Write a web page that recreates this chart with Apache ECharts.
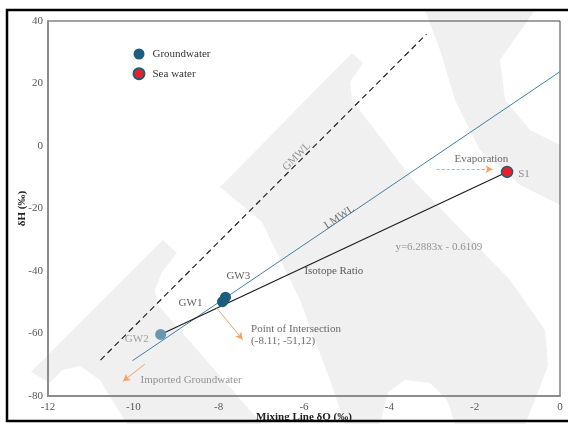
<!DOCTYPE html>
<html>
<head>
<meta charset="utf-8">
<script src="https://cdn.jsdelivr.net/npm/echarts@6/dist/echarts.min.js"></script>
<style>
html, body { margin: 0; padding: 0; background: #fff; }
#main { width: 568px; height: 424px; }
</style>
</head>
<body>
<div id="main"></div>
<script>
// sample values (δ18O, δ2H in per mille)
var gwNames = ['GW1', 'GW2', 'GW3'];
var gwO = [-7.91, -9.36, -7.84];
var gwH = [-49.8, -60.3, -48.4];

var seaNames = ['S1'];
var seaO = [-1.24];
var seaH = [-8.3];

// reference lines (end points)
var gmwlO = [-10.77, -3.13];
var gmwlH = [-68.5, 35.8];
var lmwlO = [-10.02, 0];
var lmwlH = [-68.7, 23.8];
var mixO = [-9.36, -1.24];
var mixH = [-60.3, -8.3];

var xTicks = [-12, 0, 2];   // min, max, step
var yTicks = [-80, 40, 20];

// text notes, placed in data units
var noteText = ['GMWL', 'LMWL', 'Evaporation', 'S1', 'y=6.2883x - 0.6109', 'Isotope Ratio',
  'GW3', 'GW1', 'GW2', 'Point of Intersection\n(-8.11; -51,12)', 'Imported Groundwater'];
var noteO = [-6.17, -5.17, -1.84, -0.98, -2.84, -5.30, -7.54, -8.66, -9.92, -7.24, -9.83];
var noteH = [-3.4, -22.8, -4.3, -9.0, -32.2, -39.9, -41.7, -50.3, -61.9, -60.6, -75.0];

// orange arrows [fromO, fromH, toO, toH]
var arrowEvap = [-2.89, -7.46, -1.58, -7.46];
var arrowCross = [-8.06, -51.6, -7.44, -61.9];
var arrowImport = [-9.73, -69.8, -10.24, -75.3];

var FONT = 'Liberation Serif';
var GW_COLOR = '#1b5e7e';
var ORANGE = '#f4a261';

function pairs(xs, ys) {
  return xs.map(function (x, i) { return [x, ys[i]]; });
}

var noteStyle = [
  { color: '#7a7a7a', rotate: 45 },
  { color: '#555', rotate: 34 },
  { color: '#444' },
  { color: '#777', align: 'left' },
  { color: '#7a7a7a' },
  { color: '#333' },
  { color: '#333' },
  { color: '#333' },
  { color: '#8a8a8a' },
  { color: '#444', align: 'left', lineHeight: 12 },
  { color: '#7a7a7a', align: 'left' }
];

var notes = noteText.map(function (t, i) {
  var s = noteStyle[i];
  return {
    value: [noteO[i], noteH[i]],
    label: {
      show: true,
      formatter: t,
      position: 'inside',
      align: s.align || 'center',
      verticalAlign: 'middle',
      rotate: s.rotate || 0,
      color: s.color,
      fontSize: 11,
      lineHeight: s.lineHeight || 13,
      fontFamily: FONT
    }
  };
});

function arrow(a, dashed) {
  return [{ coord: [a[0], a[1]] }, { coord: [a[2], a[3]], lineStyle: { type: dashed ? [3, 2] : 'solid' } }];
}

// background watermark (pure decoration, pixel space)
var wmShapes = [
  [[31,372],[163,240],[177,253],[162,272],[155,290],[158,305],[262,424],[127,424],[112,400],[100,380],[80,366],[62,370],[50,383]],
  [[220,187],[352,53],[363,63],[350,82],[352,100],[413,180],[510,280],[545,330],[548,365],[535,400],[525,424],[455,424],[447,400],[430,383],[405,380],[388,392],[380,424],[345,424],[330,380],[300,300],[262,222]],
  [[425,10],[535,10],[500,60],[505,100],[530,130],[560,145],[560,205],[520,185],[480,150],[455,100],[440,50]]
];

var graphics = wmShapes.map(function (pts) {
  return { type: 'polygon', z: -10, silent: true, shape: { points: pts }, style: { fill: '#f0f0f0' } };
});
graphics.push({
  type: 'rect', z: 100, silent: true,
  shape: { x: 7, y: 10, width: 620, height: 411 },
  style: { fill: 'none', stroke: '#000', lineWidth: 2.5 }
});

var option = {
  animation: false,
  textStyle: { fontFamily: FONT },
  graphic: graphics,
  grid: {
    left: 48, right: 8, top: 21, bottom: 28, outerBoundsMode: 'none', containLabel: false,
    show: true, borderColor: '#444', borderWidth: 1
  },
  legend: {
    left: 132.5, top: 48.5, orient: 'vertical', padding: 0,
    itemWidth: 11, itemHeight: 11, itemGap: 7.7, icon: 'circle',
    textStyle: { fontSize: 11, color: '#333', fontFamily: FONT, padding: [0, 0, 0, 3] },
    data: ['Groundwater', 'Sea water']
  },
  xAxis: {
    type: 'value', min: xTicks[0], max: xTicks[1], interval: xTicks[2],
    axisLine: { show: true, onZero: false, lineStyle: { color: '#8c8c8c', width: 2 } },
    axisTick: { show: false },
    splitLine: { show: false },
    axisLabel: { color: '#555', fontSize: 11, margin: 6, fontFamily: FONT },
    name: 'Mixing Line δO (‰)', nameLocation: 'middle', nameGap: 16, nameMoveOverlap: false,
    nameTextStyle: { fontWeight: 'bold', fontSize: 11, color: '#222', fontFamily: FONT }
  },
  yAxis: {
    type: 'value', min: yTicks[0], max: yTicks[1], interval: yTicks[2],
    axisLine: { show: true, onZero: false, lineStyle: { color: '#8c8c8c', width: 2 } },
    axisTick: { show: false },
    splitLine: { show: false },
    axisLabel: { color: '#555', fontSize: 11, margin: 5, fontFamily: FONT },
    name: 'δH (‰)', nameLocation: 'middle', nameGap: 20, nameRotate: 90, nameMoveOverlap: false,
    nameTextStyle: { fontWeight: 'bold', fontSize: 11, color: '#222', fontFamily: FONT }
  },
  series: [
    {
      name: 'GMWL', type: 'line', data: pairs(gmwlO, gmwlH), symbol: 'none', silent: true,
      lineStyle: { color: '#222', width: 1.2, type: [6, 4] }, z: 2
    },
    {
      name: 'LMWL', type: 'line', data: pairs(lmwlO, lmwlH), symbol: 'none', silent: true,
      lineStyle: { color: '#3f80a8', width: 1 }, z: 2
    },
    {
      name: 'Isotope Ratio', type: 'line', data: pairs(mixO, mixH), symbol: 'none', silent: true,
      lineStyle: { color: '#1a1a1a', width: 1.1 }, z: 3
    },
    {
      name: 'Groundwater', type: 'scatter', symbolSize: 11, z: 4,
      itemStyle: { color: GW_COLOR, opacity: 1 },
      data: gwNames.map(function (n, i) {
        var d = { name: n, value: [gwO[i], gwH[i]] };
        if (n === 'GW2') d.itemStyle = { color: '#6a97ad', opacity: 1 };
        return d;
      })
    },
    {
      name: 'Sea water', type: 'scatter', symbolSize: 11, z: 4,
      itemStyle: { color: '#e8202a', borderColor: GW_COLOR, borderWidth: 1.5, opacity: 1 },
      data: seaNames.map(function (n, i) { return { name: n, value: [seaO[i], seaH[i]] }; })
    },
    {
      name: 'notes', type: 'scatter', symbolSize: 1, silent: true, z: 5,
      itemStyle: { color: 'rgba(0,0,0,0)' },
      data: notes,
      markLine: {
        silent: true, symbol: ['none', 'arrow'], symbolSize: [6, 7],
        label: { show: false },
        lineStyle: { color: ORANGE, width: 1, type: 'solid' },
        data: [arrow(arrowEvap, true), arrow(arrowCross), arrow(arrowImport)]
      }
    }
  ]
};

var chart = echarts.init(document.getElementById('main'));
chart.setOption(option);
</script>
</body>
</html>
